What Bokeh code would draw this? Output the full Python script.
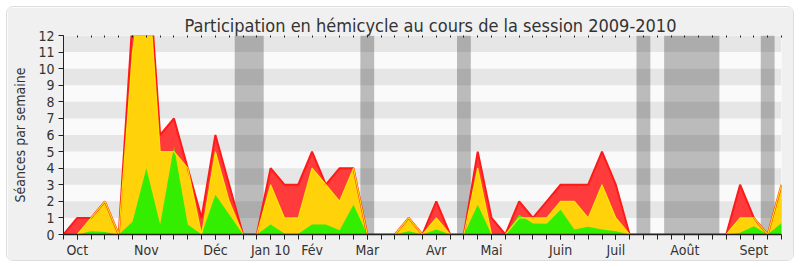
from bokeh.plotting import figure
from bokeh.models import FixedTicker, LinearAxis, Range1d, Title
from bokeh.embed import file_html
from bokeh.resources import INLINE

# ---- data ----
weeks = list(range(53))
seances_total = [0, 1, 1, 2, 0, 13, 18, 6, 7, 4, 1, 6, 3, 0, 0, 4, 3, 3, 5, 3,
                 4, 4, 0, 0, 0, 1, 0, 2, 0, 0, 5, 1, 0, 2, 1, 2, 3, 3, 3, 5,
                 3, 0, 0, 0, 0, 0, 0, 0, 0, 3, 1, 0, 3]
seances_presence = [0, 0, 1, 2, 0, 11, 17, 5, 5, 4, 0, 5, 2, 0, 0, 3, 1, 1, 4, 3,
                    2, 4, 0, 0, 0, 1, 0, 1, 0, 0, 4, 0, 0, 1, 1, 1, 2, 2, 1, 3,
                    1, 0, 0, 0, 0, 0, 0, 0, 0, 1, 1, 0, 3]
interventions = [0, 0, 0.2, 0.15, 0, 0.77, 4, 0.6, 5.3, 0.6, 0, 2.4, 1.2, 0, 0, 0.6, 0.06, 0.05, 0.6, 0.6,
                 0.26, 1.8, 0, 0, 0, 0.2, 0, 0.3, 0, 0, 1.8, 0, 0, 1.2, 0.67, 0.65, 1.5, 0.3, 0.47, 0.3,
                 0.2, 0, 0, 0, 0, 0, 0, 0, 0, 0.1, 0.5, 0, 0.7]
month_positions = [1, 6, 11, 15, 18, 22, 27, 31, 36, 40, 45, 50]
month_labels = ["Oct", "Nov", "Déc", "Jan 10", "Fév", "Mar", "Avr", "Mai", "Juin", "Juil", "Août", "Sept"]
vacances_debut = [12.4, 21.5, 28.5, 41.5, 43.5, 50.5]
vacances_fin = [14.5, 22.5, 29.5, 42.5, 47.5, 51.5]
y_ticks = list(range(13))
bandes_bas = [1, 3, 5, 7, 9, 11]
titre = "Participation en hémicycle au cours de la session 2009-2010"

FONT = "DejaVu Sans Condensed, DejaVu Sans"
TXT = "#333333"
DARK = "#222222"

p = figure(width=788, height=255, x_range=Range1d(0, 52), y_range=Range1d(0, 12),
           output_backend="svg", toolbar_location=None, title=None,
           margin=(6, 6, 6, 6),
           min_border_left=56, min_border_right=14, min_border_top=28, min_border_bottom=28)
p.styles = {"border": "1px solid #dddddd", "border-radius": "7px", "overflow": "hidden"}
p.background_fill_color = "#fafafa"
p.border_fill_color = "#f0f0f0"
p.outline_line_color = None
p.xgrid.visible = False
p.ygrid.visible = False

# background stripes
p.quad(left=0, right=52, bottom=bandes_bas, top=[b + 1 for b in bandes_bas],
       fill_color="#e6e6e6", line_color=None)
# holidays
p.quad(left=vacances_debut, right=vacances_fin, bottom=0, top=12,
       fill_color="black", fill_alpha=0.25, line_color=None)

# areas
p.varea(x=weeks, y1=0, y2=seances_total, fill_color="#ff3b3b")
p.varea(x=weeks, y1=0, y2=seances_presence, fill_color="#ffd20a")
p.varea(x=weeks, y1=0, y2=interventions, fill_color="#33ee00")
p.line(weeks, seances_total, line_color="#ff1a1a", line_width=2)
p.line(weeks, seances_presence, line_color="#ffee00", line_width=1.2, line_alpha=0.9)

# axes
xa = p.xaxis[0]
xa.ticker = FixedTicker(ticks=month_positions, minor_ticks=weeks)
xa.major_label_overrides = dict(zip(month_positions, month_labels))
xa.major_tick_out = 5
xa.major_tick_in = 0
xa.minor_tick_out = 5
xa.minor_tick_in = 0
xa.minor_tick_line_color = DARK
xa.axis_line_color = DARK
xa.axis_line_width = 1.5
xa.major_tick_line_color = DARK
xa.major_label_text_font = FONT
xa.major_label_text_font_size = "14px"
xa.major_label_text_color = TXT
xa.major_label_standoff = 2

ya = p.yaxis[0]
ya.ticker = FixedTicker(ticks=y_ticks)
ya.major_tick_out = 5
ya.major_tick_in = 0
ya.minor_tick_line_color = None
ya.axis_line_color = DARK
ya.major_tick_line_color = DARK
ya.major_label_text_font = FONT
ya.major_label_text_font_size = "14px"
ya.major_label_text_color = TXT
ya.major_label_standoff = 4
ya.axis_label = "Séances par semaine"
ya.axis_label_text_font = FONT
ya.axis_label_text_font_size = "14px"
ya.axis_label_text_font_style = "normal"
ya.axis_label_text_color = TXT
ya.axis_label_standoff = 7

# top edge: small week ticks (closest to the frame)
top = LinearAxis(ticker=FixedTicker(ticks=[], minor_ticks=weeks), axis_line_color=None,
                 major_tick_line_color=None, minor_tick_in=2, minor_tick_out=0,
                 minor_tick_line_color=DARK, major_label_standoff=0)
p.add_layout(top, "above")

# title
t = Title(text=titre, text_font=FONT, text_font_size="18px", text_font_style="normal",
          text_color=TXT, align="left", offset=121, standoff=0)
p.add_layout(t, "above")

open("out.html", "w").write(file_html(p, INLINE))
